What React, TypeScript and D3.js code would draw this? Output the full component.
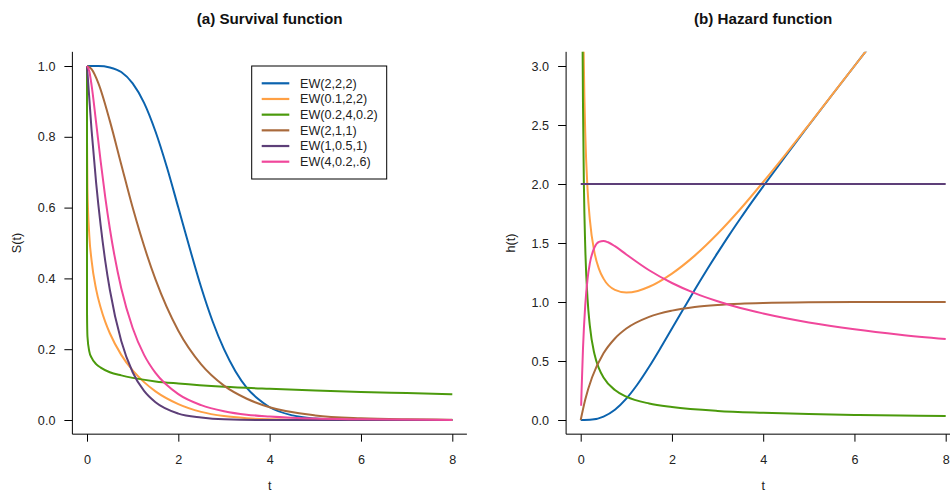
import React, { useRef, useEffect } from 'react';
import * as d3 from 'd3';

// legend labels and colours, in drawing order
const seriesNames = ['EW(2,2,2)', 'EW(0.1,2,2)', 'EW(0.2,4,0.2)', 'EW(2,1,1)', 'EW(1,0.5,1)', 'EW(4,0.2,.6)'];
const seriesColors = ['#0B63AE', '#FFA044', '#4B9A0C', '#A96A3C', '#5D3F78', '#F0479B'];

// EW(2,2,2)
const ew222T = [0, 0.25, 0.5, 0.75, 1, 1.25, 1.5, 1.75, 2, 2.25, 2.5, 2.75, 3, 3.25, 3.5, 3.75, 4, 4.5, 5, 5.5, 6, 7, 8];
const ew222Surv = [1, 1.0, 0.996, 0.983, 0.951, 0.896, 0.815, 0.714, 0.6, 0.485, 0.375, 0.279, 0.2, 0.138, 0.091, 0.059, 0.036, 0.013, 0.004, 0.001, 0, 0, 0];
const ew222Haz = [0, 0.004, 0.029, 0.087, 0.181, 0.305, 0.451, 0.61, 0.775, 0.94, 1.104, 1.263, 1.416, 1.565, 1.708, 1.847, 1.98, 2.243, 2.498, 2.75, 3.0, 3.5, 4.0];

// EW(0.1,2,2)
const ew0122SurvT = [0, 0.001, 0.01, 0.05, 0.1, 0.2, 0.3, 0.4, 0.5, 0.75, 1, 1.25, 1.5, 2, 2.5, 3, 3.5, 4, 5, 6, 8];
const ew0122Surv = [1, 0.781, 0.653, 0.522, 0.451, 0.369, 0.317, 0.277, 0.245, 0.184, 0.14, 0.107, 0.081, 0.045, 0.023, 0.011, 0.005, 0.002, 0, 0, 0];
const ew0122HazT = [0.03, 0.05, 0.07, 0.1, 0.15, 0.2, 0.3, 0.4, 0.5, 0.75, 1, 1.25, 1.5, 2, 2.5, 3, 3.5, 4, 4.5, 5, 6, 7, 8];
const ew0122Haz = [5.07, 3.66, 2.99, 2.433, 1.958, 1.7, 1.423, 1.281, 1.198, 1.103, 1.081, 1.094, 1.129, 1.241, 1.393, 1.578, 1.788, 2.017, 2.256, 2.502, 3.0, 3.5, 4.0];

// EW(0.2,4,0.2)
const ew02402SurvT = [0, 0.0001, 0.001, 0.01, 0.05, 0.1, 0.2, 0.3, 0.5, 0.75, 1, 1.5, 2, 3, 4, 5, 6, 7, 8];
const ew02402Surv = [1, 0.353, 0.296, 0.236, 0.194, 0.176, 0.158, 0.148, 0.135, 0.126, 0.119, 0.109, 0.103, 0.094, 0.088, 0.083, 0.079, 0.076, 0.073];
const ew02402HazT = [0.02, 0.03, 0.04, 0.05, 0.07, 0.1, 0.15, 0.2, 0.3, 0.4, 0.5, 0.75, 1, 1.5, 2, 3, 4, 5, 6, 7, 8];
const ew02402Haz = [6.01, 4.2, 3.26, 2.683, 1.997, 1.462, 1.026, 0.799, 0.561, 0.438, 0.361, 0.254, 0.198, 0.14, 0.11, 0.077, 0.061, 0.05, 0.043, 0.038, 0.034];

// EW(2,1,1)
const ew211T = [0, 0.1, 0.25, 0.5, 0.75, 1, 1.5, 2, 2.5, 3, 3.5, 4, 5, 6, 7, 8];
const ew211Surv = [1, 0.991, 0.951, 0.845, 0.722, 0.6, 0.397, 0.252, 0.157, 0.097, 0.06, 0.036, 0.013, 0.005, 0.002, 0.001];
const ew211Haz = [0, 0.174, 0.362, 0.565, 0.691, 0.775, 0.874, 0.927, 0.958, 0.975, 0.985, 0.991, 0.997, 0.999, 1.0, 1.0];

// EW(1,0.5,1)
const ew1051SurvT = [0, 0.1, 0.2, 0.3, 0.4, 0.5, 0.75, 1, 1.25, 1.5, 2, 2.5, 3, 4, 5, 8];
const ew1051Surv = [1, 0.819, 0.67, 0.549, 0.449, 0.368, 0.223, 0.135, 0.082, 0.05, 0.018, 0.007, 0.002, 0, 0, 0];
const ew1051HazT = [0, 8];
const ew1051Haz = [2, 2];

// EW(4,0.2,.6)
const ew4026SurvT = [0, 0.05, 0.1, 0.2, 0.3, 0.4, 0.5, 0.75, 1, 1.25, 1.5, 2, 2.5, 3, 3.5, 4, 5, 6, 8];
const ew4026Surv = [1, 0.985, 0.946, 0.84, 0.73, 0.629, 0.541, 0.372, 0.26, 0.184, 0.133, 0.073, 0.042, 0.025, 0.015, 0.01, 0.004, 0.002, 0];
const ew4026HazT = [0.01, 0.02, 0.05, 0.1, 0.15, 0.2, 0.3, 0.4, 0.5, 0.6, 0.75, 1, 1.5, 2, 2.5, 3, 3.5, 4, 5, 6, 7, 8];
const ew4026Haz = [0.12, 0.258, 0.604, 0.976, 1.194, 1.327, 1.461, 1.509, 1.517, 1.506, 1.473, 1.403, 1.269, 1.161, 1.075, 1.006, 0.949, 0.903, 0.827, 0.769, 0.723, 0.686];

const xTicks = [0, 2, 4, 6, 8];
const survTicks = [0, 0.2, 0.4, 0.6, 0.8, 1.0];
const hazTicks = [0, 0.5, 1, 1.5, 2, 2.5, 3];

const survSeries = [
  [ew222T, ew222Surv],
  [ew0122SurvT, ew0122Surv],
  [ew02402SurvT, ew02402Surv],
  [ew211T, ew211Surv],
  [ew1051SurvT, ew1051Surv],
  [ew4026SurvT, ew4026Surv],
];
const hazSeries = [
  [ew222T, ew222Haz],
  [ew0122HazT, ew0122Haz],
  [ew02402HazT, ew02402Haz],
  [ew211T, ew211Haz],
  [ew1051HazT, ew1051Haz],
  [ew4026HazT, ew4026Haz],
];

const W = 950;
const H = 494;
const FONT = '"Liberation Sans", Arial, Helvetica, sans-serif';

const App = () => {
  const svgRef = useRef(null);

  useEffect(() => {
    const svg = d3.select(svgRef.current);
    svg.selectAll('*').remove();
    svg.attr('width', W).attr('height', H).style('font-family', FONT);

    const panels = [
      { id: 'a', title: '(a) Survival function', ylab: 'S(t)', ylabX: 21, xRange: [87, 452.3], yMax: 1, pad: 0.04, yTicks: survTicks, series: survSeries },
      { id: 'b', title: '(b) Hazard function', ylab: 'h(t)', ylabX: 515, xRange: [580.7, 945.7], yMax: 3, pad: 0.12, yTicks: hazTicks, series: hazSeries },
    ];

    panels.forEach(p => {
      const x = d3.scaleLinear().domain([0, 8]).range(p.xRange);
      const y = d3.scaleLinear().domain([0, p.yMax]).range([420, 66]);
      const left = x(-0.32);
      const right = x(8.32);
      const top = y(p.yMax + p.pad);
      const bottom = y(-p.pad);

      svg.append('clipPath').attr('id', `clip-${p.id}`)
        .append('rect')
        .attr('x', left).attr('y', top)
        .attr('width', right - left).attr('height', bottom - top);

      // curves
      const line = d3.line()
        .x(d => x(d[0]))
        .y(d => y(d[1]))
        .curve(d3.curveMonotoneX);

      const g = svg.append('g').attr('clip-path', `url(#clip-${p.id})`);
      p.series.forEach((s, i) => {
        g.append('path')
          .attr('d', line(d3.zip(s[0], s[1])))
          .attr('fill', 'none')
          .attr('stroke', seriesColors[i])
          .attr('stroke-width', 2);
      });

      // L-shaped frame
      svg.append('path')
        .attr('d', `M${left},${top}V${bottom}H${right}`)
        .attr('fill', 'none')
        .attr('stroke', '#000')
        .attr('stroke-width', 1);

      // y axis
      const yAxis = svg.append('g')
        .attr('transform', `translate(${left},0)`)
        .call(d3.axisLeft(y).tickValues(p.yTicks).tickSize(8).tickPadding(9).tickFormat(d3.format('.1f')));
      yAxis.select('.domain').remove();
      yAxis.selectAll('text').attr('font-size', 12.6).attr('font-family', FONT).attr('fill', '#222');

      // x axis
      const xAxis = svg.append('g')
        .attr('transform', `translate(0,${bottom})`)
        .call(d3.axisBottom(x).tickValues(xTicks).tickSize(7.5).tickPadding(13).tickFormat(d3.format('d')));
      xAxis.select('.domain').remove();
      xAxis.selectAll('text').attr('font-size', 12.6).attr('font-family', FONT).attr('fill', '#222');

      // title and labels
      svg.append('text')
        .attr('x', (left + right) / 2).attr('y', 24)
        .attr('text-anchor', 'middle')
        .attr('font-weight', 'bold')
        .attr('font-size', 15.2)
        .attr('fill', '#111')
        .text(p.title);

      svg.append('text')
        .attr('x', (left + right) / 2).attr('y', 490)
        .attr('text-anchor', 'middle')
        .attr('font-size', 12.6)
        .attr('fill', '#222')
        .text('t');

      svg.append('text')
        .attr('transform', `translate(${p.ylabX},${(top + bottom) / 2}) rotate(-90)`)
        .attr('text-anchor', 'middle')
        .attr('font-size', 12.6)
        .attr('fill', '#222')
        .text(p.ylab);
    });

    // legend in panel (a)
    const legend = svg.append('g');
    legend.append('rect')
      .attr('x', 251.7).attr('y', 66)
      .attr('width', 135).attr('height', 113)
      .attr('fill', '#fff')
      .attr('stroke', '#000')
      .attr('stroke-width', 1);

    const rowY = d3.scaleLinear().domain([0, 5]).range([83.3, 161.7]);
    seriesNames.forEach((name, i) => {
      legend.append('line')
        .attr('x1', 261.7).attr('x2', 289.3)
        .attr('y1', rowY(i)).attr('y2', rowY(i))
        .attr('stroke', seriesColors[i])
        .attr('stroke-width', 2.2);
      legend.append('text')
        .attr('x', 300).attr('y', rowY(i))
        .attr('dy', '0.35em')
        .attr('font-size', 12.6)
        .attr('fill', '#222')
        .text(name);
    });
  }, []);

  return (
    <div style={{ position: 'absolute', left: 0, top: 0 }}>
      <svg ref={svgRef} style={{ display: 'block' }}></svg>
    </div>
  );
};

export default App;
